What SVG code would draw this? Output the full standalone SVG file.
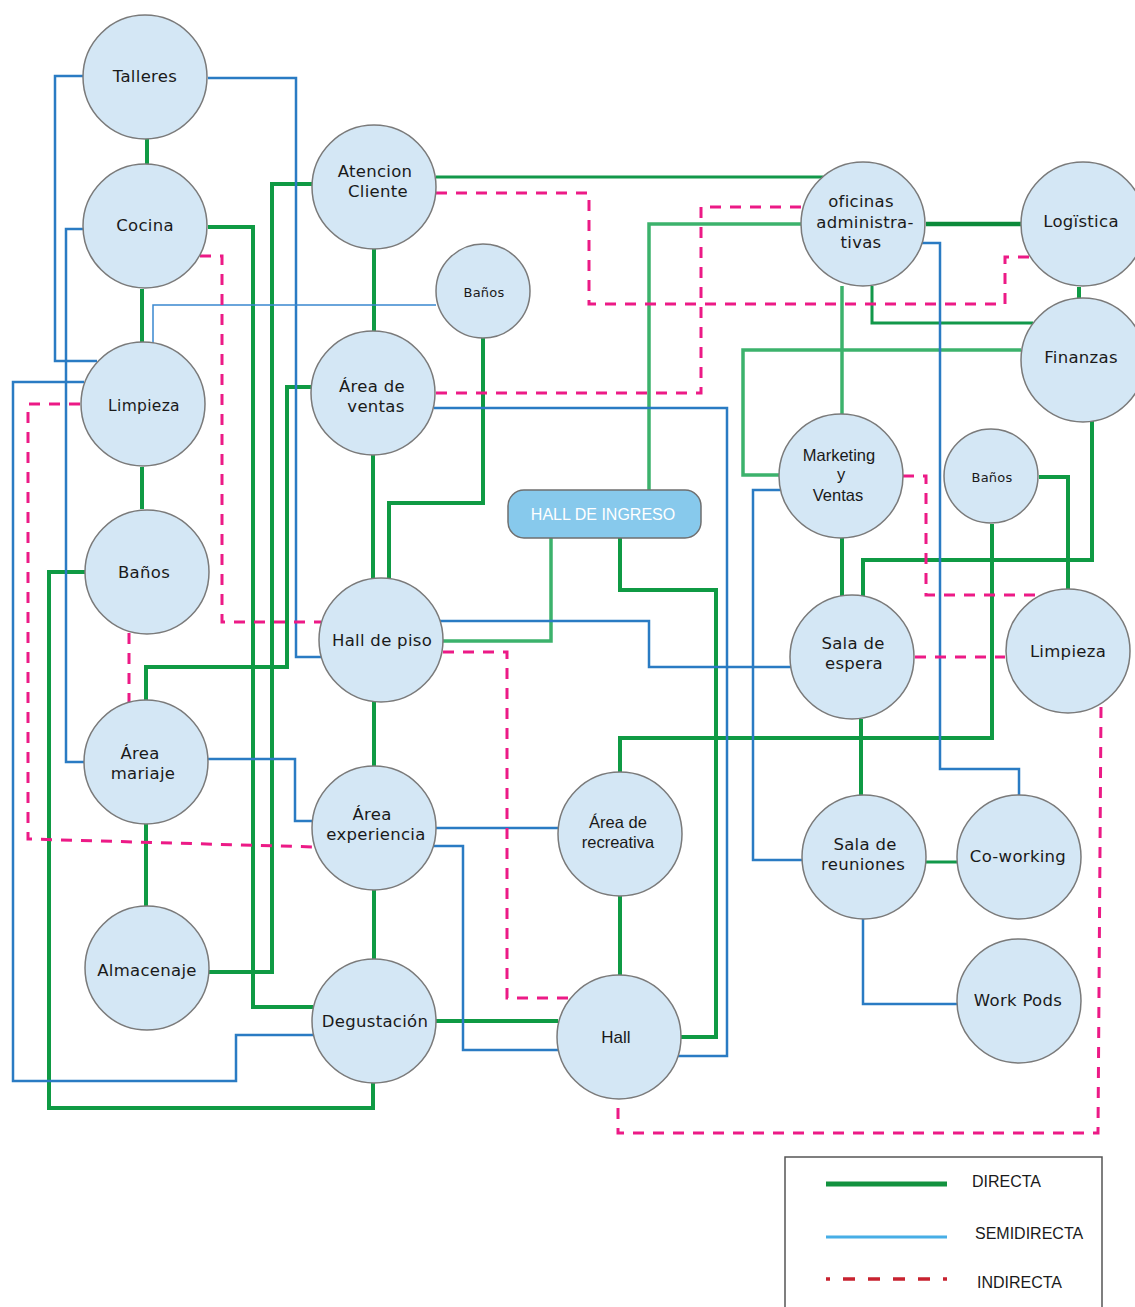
<svg xmlns="http://www.w3.org/2000/svg" width="1135" height="1307" viewBox="0 0 1135 1307">
<style>
.n{fill:#d4e7f5;stroke:#7a7a7a;stroke-width:1.5}
.t{font-family:"DejaVu Sans",Verdana,sans-serif;font-size:16.5px;letter-spacing:0.3px;fill:#1a1a1a;text-anchor:middle}
.s{font-size:13px;letter-spacing:0.2px}
.a{font-family:"Liberation Sans",Arial,sans-serif;font-size:16.5px;fill:#1a1a1a;text-anchor:middle}
.g{fill:none;stroke:#0f9a44;stroke-width:4}
.gt{fill:none;stroke:#12984a;stroke-width:3}
.lg{fill:none;stroke:#3cb26c;stroke-width:3.5}
.b{fill:none;stroke:#2a7bc3;stroke-width:2.5}
.bt{fill:none;stroke:#3a88cf;stroke-width:1.5}
.d{fill:none;stroke:#ec1a86;stroke-width:3;stroke-dasharray:11 9}
.lt{font-family:"Liberation Sans",Arial,sans-serif;font-size:16px;fill:#1a1a1a}
</style>
<rect width="1135" height="1307" fill="#ffffff"/>
<g id="connectors">
<path class="g" d="M147,139 V165"/>
<path class="g" d="M142,289 V342"/>
<path class="g" d="M142,467 V509"/>
<path class="g" d="M146,824 V906"/>
<path class="g" d="M208,227 H253 V1007 H313"/>
<path class="g" d="M312,184 H272 V972 H209"/>
<path class="g" d="M146,700 V667 H287 V387 H312"/>
<path class="g" d="M85,572 H49 V1108 H373 V1083"/>
<path class="g" d="M374,249 V332"/>
<path class="g" d="M373,455 V579"/>
<path class="g" d="M374,702 V766"/>
<path class="g" d="M374,890 V960"/>
<path class="g" d="M483,338 V503 H389 V581"/>
<path class="g" d="M436,1021 H558"/>
<path class="g" d="M620,896 V975"/>
<path class="g" d="M620,538 V590 H716 V1037 H681"/>
<path class="g" d="M926,224 H1021" style="stroke:#0b8a3a;stroke-width:4.5"/>
<path class="g" d="M1079,287 V298"/>
<path class="g" d="M842,538 V596"/>
<path class="g" d="M1092,421 V560 H863 V597"/>
<path class="g" d="M1039,477 H1068 V589"/>
<path class="g" d="M992,524 V738 H620 V772"/>
<path class="g" d="M861,719 V795"/>
<path class="gt" d="M436,177 H823"/>
<path class="gt" d="M872,286 V323 H1033"/>
<path class="gt" d="M926,862 H957"/>
<path class="lg" d="M802,224 H649 V490"/>
<path class="lg" d="M443,641 H551 V538"/>
<path class="lg" d="M842,286 V414"/>
<path class="lg" d="M1021,350 H743 V475 H779"/>
<path class="b" d="M83,76 H55 V361 H97"/>
<path class="b" d="M208,78 H296 V657 H321"/>
<path class="b" d="M84,229 H66 V762 H84"/>
<path class="b" d="M84,382 H13 V1081 H236 V1035 H313"/>
<path class="b" d="M208,759 H295 V821 H313"/>
<path class="b" d="M436,828 H558"/>
<path class="b" d="M432,846 H463 V1050 H558"/>
<path class="b" d="M440,621 H649 V667 H791"/>
<path class="b" d="M434,408 H727 V1056 H678"/>
<path class="b" d="M921,243 H940 V769 H1019 V795"/>
<path class="b" d="M780,490 H753 V860 H802"/>
<path class="b" d="M863,919 V1004 H957"/>
<path class="bt" d="M153,343 V305 H436"/>
<path class="d" d="M129,633 V705"/>
<path class="d" d="M200,256 H222 V622 H321"/>
<path class="d" d="M80,404 H28 V839 L315,847"/>
<path class="d" d="M443,652 H507 V998 H572"/>
<path class="d" d="M436,393 H701 V207 H804"/>
<path class="d" d="M436,193 H589 V304 H1005 V257 H1030"/>
<path class="d" d="M903,476 H926 V595 H1040"/>
<path class="d" d="M915,657 H1005"/>
<path class="d" d="M1101,707 L1098,1133 H618 V1098"/>
</g>
<g id="talleres"><circle class="n" cx="145" cy="77" r="62"/><text class="t" x="145" y="82">Talleres</text></g>
<g id="cocina"><circle class="n" cx="145" cy="226" r="62"/><text class="t" x="145" y="231">Cocina</text></g>
<g id="limpieza-1"><circle class="n" cx="143" cy="404" r="62"/><text class="t" x="144" y="411" style="font-size:15.5px">Limpieza</text></g>
<g id="banos-1"><circle class="n" cx="147" cy="572" r="62"/><text class="t" x="144" y="578">Baños</text></g>
<g id="area-mariaje"><circle class="n" cx="146" cy="762" r="62"/><text class="t" x="140" y="759">Área</text><text class="t" x="143" y="779">mariaje</text></g>
<g id="almacenaje"><circle class="n" cx="147" cy="968" r="62"/><text class="t" x="147" y="976">Almacenaje</text></g>
<g id="atencion-cliente"><circle class="n" cx="374" cy="187" r="62"/><text class="t" x="375" y="177">Atencion</text><text class="t" x="378" y="197">Cliente</text></g>
<g id="banos-2"><circle class="n" cx="483" cy="291" r="47"/><text class="t s" x="484" y="297">Baños</text></g>
<g id="area-ventas"><circle class="n" cx="373" cy="393" r="62"/><text class="t" x="372" y="392">Área de</text><text class="t" x="376" y="412">ventas</text></g>
<g id="hall-ingreso"><rect x="508" y="490" width="193" height="48" rx="16" fill="#87c9ec" stroke="#6f6f6f" stroke-width="1.5"/><text class="a" x="603" y="520" style="fill:#ffffff;font-size:16px">HALL DE INGRESO</text></g>
<g id="hall-piso"><circle class="n" cx="381" cy="640" r="62"/><text class="t" x="382" y="646">Hall de piso</text></g>
<g id="area-experiencia"><circle class="n" cx="374" cy="828" r="62"/><text class="t" x="372" y="820">Área</text><text class="t" x="376" y="840">experiencia</text></g>
<g id="degustacion"><circle class="n" cx="374" cy="1021" r="62"/><text class="t" x="375" y="1027">Degustación</text></g>
<g id="area-recreativa"><circle class="n" cx="620" cy="834" r="62"/><text class="a" x="618" y="828">Área de</text><text class="a" x="618" y="848">recreativa</text></g>
<g id="hall"><circle class="n" cx="619" cy="1037" r="62"/><text class="a" x="616" y="1043" style="font-size:17px">Hall</text></g>
<g id="oficinas"><circle class="n" cx="863" cy="224" r="62"/><text class="t" x="861" y="207">oficinas</text><text class="t" x="865" y="228">administra-</text><text class="t" x="861" y="248">tivas</text></g>
<g id="logistica"><circle class="n" cx="1083" cy="224" r="62"/><text class="t" x="1081" y="227">Logïstica</text></g>
<g id="finanzas"><circle class="n" cx="1083" cy="360" r="62"/><text class="t" x="1081" y="363">Finanzas</text></g>
<g id="marketing"><circle class="n" cx="841" cy="476" r="62"/><text class="a" x="839" y="461">Marketing</text><text class="a" x="841" y="480">y</text><text class="a" x="838" y="501">Ventas</text></g>
<g id="banos-3"><circle class="n" cx="991" cy="476" r="47"/><text class="t s" x="992" y="482">Baños</text></g>
<g id="sala-espera"><circle class="n" cx="852" cy="657" r="62"/><text class="t" x="853" y="649">Sala de</text><text class="t" x="854" y="669">espera</text></g>
<g id="limpieza-2"><circle class="n" cx="1068" cy="651" r="62"/><text class="t" x="1068" y="657">Limpieza</text></g>
<g id="sala-reuniones"><circle class="n" cx="864" cy="857" r="62"/><text class="t" x="865" y="850">Sala de</text><text class="t" x="863" y="870">reuniones</text></g>
<g id="coworking"><circle class="n" cx="1019" cy="857" r="62"/><text class="t" x="1018" y="862">Co-working</text></g>
<g id="work-pods"><circle class="n" cx="1019" cy="1001" r="62"/><text class="t" x="1018" y="1006">Work Pods</text></g>
<g id="legend">
<rect x="785" y="1157" width="317" height="160" fill="#ffffff" stroke="#555555" stroke-width="1.5"/>
<line x1="826" y1="1184" x2="947" y2="1184" stroke="#12923f" stroke-width="5"/>
<line x1="826" y1="1237" x2="947" y2="1237" stroke="#47aee6" stroke-width="3"/>
<line x1="826" y1="1279" x2="947" y2="1279" stroke="#c8222f" stroke-width="3.5" stroke-dasharray="4 13 12 13 12 13 12 13 12 13 12 13"/>
<text class="lt" x="972" y="1187">DIRECTA</text>
<text class="lt" x="975" y="1239">SEMIDIRECTA</text>
<text class="lt" x="977" y="1288">INDIRECTA</text>
</g>
</svg>
